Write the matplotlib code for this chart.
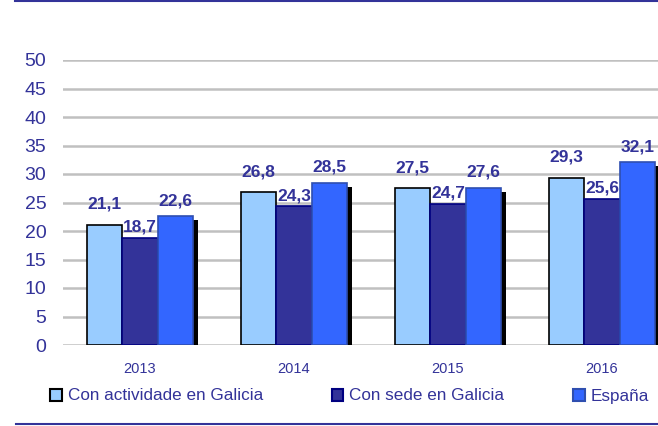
import numpy as np
import matplotlib.pyplot as plt
from matplotlib.patches import Patch
from matplotlib.lines import Line2D

plt.rcParams['font.family'] = ['Liberation Sans', 'DejaVu Sans']

years = ['2013', '2014', '2015', '2016']
actividade = [21.1, 26.8, 27.5, 29.3]
sede = [18.7, 24.3, 24.7, 25.6]
espana = [22.6, 28.5, 27.6, 32.1]
series_names = ['Con actividade en Galicia', 'Con sede en Galicia', 'España']

colors = ['#99CCFF', '#333399', '#3366FF']
edges = ['#000000', '#000080', '#2F4FB0']
txt = '#333399'

fig = plt.figure(figsize=(6.58, 4.26), dpi=100)
ax = fig.add_axes([63/658, 81/426, 595/658, 285/426])

x = np.arange(len(years))
w = 0.23
vals = [actividade, sede, espana]
lab_off = [2.3, 0.6, 1.4]

# sombra negra detras do grupo
ax.bar(x + w + 0.03, np.array(espana) - 0.7, w, color='black', zorder=1)

for i, v in enumerate(vals):
    pos = x + (i - 1) * w
    ax.bar(pos, v, w, color=colors[i], edgecolor=edges[i], linewidth=1.2, zorder=2)
    for p, val in zip(pos, v):
        ax.text(p, val + lab_off[i], f'{val:.1f}'.replace('.', ','), ha='center', va='bottom',
                fontsize=12.5, fontweight='bold', color=txt, zorder=3)

ax.set_ylim(0, 50)
ax.set_xlim(-0.5, 3.5 - 21/154)
ax.set_yticks(range(0, 51, 5))
ax.yaxis.grid(True, color='#C0C0C0', linewidth=1.8, zorder=0)
ax.set_axisbelow(True)
for s in ax.spines.values():
    s.set_visible(False)
ax.tick_params(axis='y', length=0, labelsize=14, labelcolor=txt, pad=12)
ax.tick_params(axis='x', length=0, labelsize=10.5, labelcolor=txt, pad=12)
ax.set_xticks(x)
ax.set_xticklabels(years)

handles = [Patch(facecolor=colors[i], edgecolor=edges[i], linewidth=1.5) for i in range(3)]
fig.legend(handles, series_names, loc='center left', ncol=3,
           bbox_to_anchor=(50/658, 1 - 396/426), frameon=False,
           fontsize=12.3, labelcolor=txt, handlelength=0.7, handleheight=0.7,
           handletextpad=0.35, columnspacing=4.0, borderpad=0, borderaxespad=0)

fig.add_artist(Line2D([15/658, 1], [1 - 1/426, 1 - 1/426], color='#333399', linewidth=1.5))
fig.add_artist(Line2D([16/658, 1], [1 - 424/426, 1 - 424/426], color='#333399', linewidth=1.5))

fig.savefig('out.png', dpi=100)
